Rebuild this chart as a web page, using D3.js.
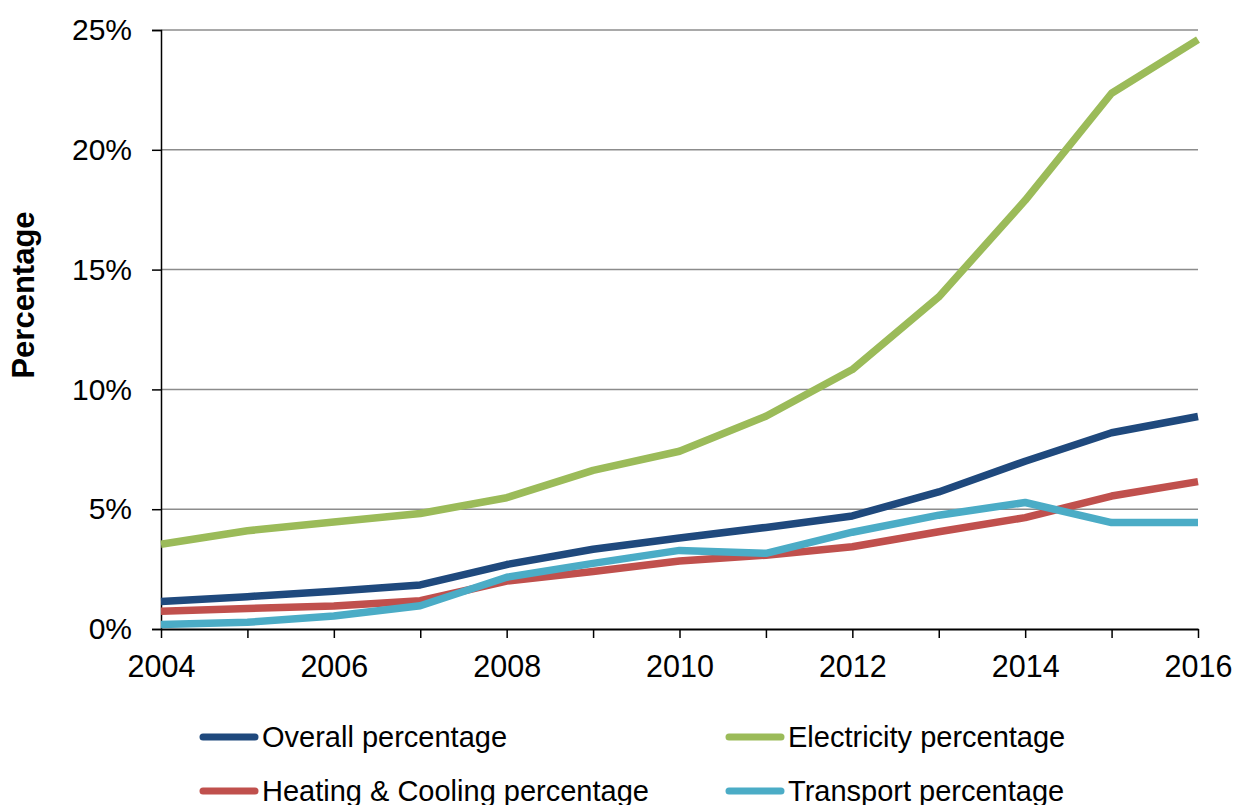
<!DOCTYPE html>
<html>
<head>
<meta charset="utf-8">
<script src="https://cdn.jsdelivr.net/npm/d3@7"></script>
<style>
  html, body { margin: 0; padding: 0; background: #fff; }
  svg { display: block; }
  text { font-family: "Liberation Sans", Arial, sans-serif; fill: #000; }
</style>
</head>
<body>
<svg id="chart" width="1235" height="805"></svg>
<script>
const years = [2004, 2005, 2006, 2007, 2008, 2009, 2010, 2011, 2012, 2013, 2014, 2015, 2016];
const overall     = [1.15, 1.35, 1.58, 1.84, 2.69, 3.33, 3.80, 4.24, 4.72, 5.72, 7.00, 8.19, 8.87];
const electricity = [3.54, 4.10, 4.47, 4.82, 5.48, 6.62, 7.42, 8.88, 10.83, 13.86, 17.89, 22.36, 24.60];
const heating     = [0.74, 0.86, 0.96, 1.18, 2.00, 2.40, 2.84, 3.08, 3.43, 4.06, 4.65, 5.55, 6.15];
const transport   = [0.19, 0.28, 0.54, 0.97, 2.16, 2.74, 3.28, 3.16, 4.04, 4.75, 5.28, 4.44, 4.44];
const seriesNames = ["Overall percentage", "Electricity percentage", "Heating & Cooling percentage", "Transport percentage"];
const seriesColors = ["#1F497D", "#9BBB59", "#C0504D", "#4BACC6"];
const yTicks = [0, 5, 10, 15, 20, 25];
const xTicks = [2004, 2006, 2008, 2010, 2012, 2014, 2016];

const series = [
  { name: seriesNames[0], values: overall, color: seriesColors[0] },
  { name: seriesNames[1], values: electricity, color: seriesColors[1] },
  { name: seriesNames[2], values: heating, color: seriesColors[2] },
  { name: seriesNames[3], values: transport, color: seriesColors[3] }
];

(function () {
const svg = d3.select("#chart");
const pLeft = 161, pRight = 1198, pTop = 30, pBottom = 629;

const x = d3.scaleLinear().domain([2004, 2016]).range([pLeft, pRight]);
const y = d3.scaleLinear().domain([0, 25]).range([pBottom, pTop]);

// gridlines
svg.append("g")
  .selectAll("line")
  .data(yTicks.filter(d => d > 0))
  .join("line")
  .attr("x1", pLeft).attr("x2", pRight)
  .attr("y1", d => y(d)).attr("y2", d => y(d))
  .attr("stroke", "#8c8c8c").attr("stroke-width", 1.5);

// y axis
const yAxis = svg.append("g")
  .attr("transform", `translate(${pLeft},0)`)
  .call(d3.axisLeft(y).tickValues(yTicks).tickFormat(d => d + "%").tickSize(9).tickPadding(20));
yAxis.select(".domain").attr("stroke", "#000").attr("stroke-width", 1.5);
yAxis.selectAll(".tick line").attr("stroke", "#000").attr("stroke-width", 1.5);
yAxis.selectAll(".tick text").attr("font-size", 30).attr("font-family", "Liberation Sans, Arial, sans-serif").attr("fill", "#000");

// x axis
const xAxis = svg.append("g")
  .attr("transform", `translate(0,${pBottom})`)
  .call(d3.axisBottom(x).tickValues(years).tickFormat(d => xTicks.includes(d) ? String(d) : "").tickSize(9).tickSizeOuter(0).tickPadding(17));
xAxis.select(".domain").attr("stroke", "#000").attr("stroke-width", 2);
xAxis.selectAll(".tick line").attr("stroke", "#000").attr("stroke-width", 1.5);
xAxis.selectAll(".tick text").attr("font-size", 30.5).attr("font-family", "Liberation Sans, Arial, sans-serif").attr("fill", "#000");

// lines
const line = d3.line().x((d, i) => x(years[i])).y(d => y(d));
svg.append("g")
  .selectAll("path")
  .data(series)
  .join("path")
  .attr("d", d => line(d.values))
  .attr("fill", "none")
  .attr("stroke", d => d.color)
  .attr("stroke-width", 7.5)
  .attr("stroke-linejoin", "round")
  .attr("stroke-linecap", "butt");

// y title
svg.append("text")
  .attr("transform", "translate(34,295) rotate(-90)")
  .attr("text-anchor", "middle")
  .attr("font-size", 31)
  .attr("font-weight", "bold")
  .text("Percentage");

// legend
const legendPos = [
  { lx: 203, ly: 737 },
  { lx: 729, ly: 737 },
  { lx: 203, ly: 791 },
  { lx: 729, ly: 791 }
];
const lg = svg.append("g").selectAll("g").data(series).join("g")
  .attr("transform", (d, i) => `translate(${legendPos[i].lx},${legendPos[i].ly})`);
lg.append("line")
  .attr("x1", 0).attr("x2", 52).attr("y1", 0).attr("y2", 0)
  .attr("stroke", d => d.color).attr("stroke-width", 7).attr("stroke-linecap", "round");
lg.append("text")
  .attr("x", 59).attr("y", 10)
  .attr("font-size", 29)
  .text(d => d.name);
})();
</script>
</body>
</html>
